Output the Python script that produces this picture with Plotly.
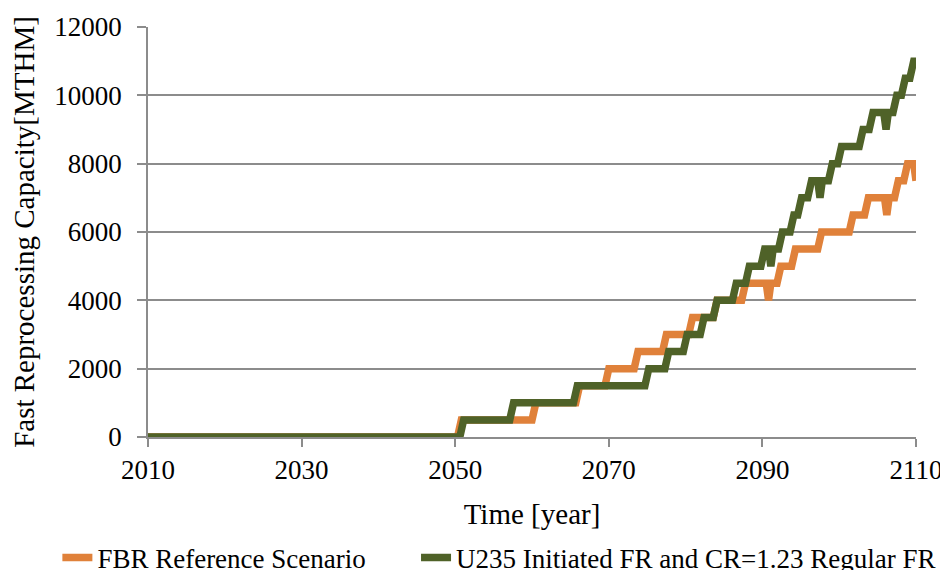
import plotly.graph_objects as go

# FBR Reference Scenario (year, capacity MTHM) corner points
fbr_years = [2010, 2050.3, 2050.8, 2060.0, 2060.5, 2065.7, 2066.2, 2069.5, 2070.0,
             2073.3, 2073.8, 2077.0, 2077.5, 2080.4, 2080.9, 2083.6, 2084.1, 2087.3,
             2087.8, 2090.5, 2090.8, 2091.1, 2091.9, 2092.4, 2093.8, 2094.3, 2097.2,
             2097.7, 2101.3, 2101.8, 2103.3, 2103.8, 2105.9, 2106.2, 2106.5, 2107.2,
             2107.7, 2108.4, 2108.9, 2109.7, 2110.0]
fbr_values = [0, 0, 500, 500, 1000, 1000, 1500, 1500, 2000,
              2000, 2500, 2500, 3000, 3000, 3500, 3500, 4000, 4000,
              4500, 4500, 4000, 4500, 4500, 5000, 5000, 5500, 5500,
              6000, 6000, 6500, 6500, 7000, 7000, 6500, 7000, 7000,
              7500, 7500, 8000, 8000, 7500]

# U235 Initiated FR and CR=1.23 Regular FR
u235_years = [2010, 2050.6, 2051.1, 2057.1, 2057.6, 2065.4, 2065.9, 2074.7, 2075.2,
              2077.3, 2077.8, 2079.7, 2080.2, 2081.9, 2082.4, 2083.6, 2084.1, 2086.1,
              2086.6, 2087.8, 2088.3, 2089.8, 2090.3, 2090.8, 2091.1, 2091.4, 2092.1,
              2092.6, 2093.6, 2094.1, 2094.6, 2095.1, 2095.9, 2096.4, 2097.2, 2097.5,
              2097.8, 2098.6, 2099.1, 2099.8, 2100.3, 2102.6, 2103.1, 2103.9, 2104.4,
              2105.8, 2106.1, 2106.4, 2107.0, 2107.5, 2108.1, 2108.6, 2109.2, 2109.7,
              2110.0]
u235_values = [0, 0, 500, 500, 1000, 1000, 1500, 1500, 2000,
               2000, 2500, 2500, 3000, 3000, 3500, 3500, 4000, 4000,
               4500, 4500, 5000, 5000, 5500, 5500, 5000, 5500, 5500,
               6000, 6000, 6500, 6500, 7000, 7000, 7500, 7500, 7000,
               7500, 7500, 8000, 8000, 8500, 8500, 9000, 9000, 9500,
               9500, 9000, 9500, 9500, 10000, 10000, 10500, 10500, 11000,
               11000]

x_ticks = [2010, 2030, 2050, 2070, 2090, 2110]
y_ticks = [0, 2000, 4000, 6000, 8000, 10000, 12000]

FONT = "Liberation Serif"
GRID = "#8c8c8c"

fig = go.Figure()
fig.add_trace(go.Scatter(
    x=fbr_years, y=fbr_values, mode="lines", name="FBR Reference Scenario",
    line=dict(color="#E0813A", width=7.5), legend="legend"))
fig.add_trace(go.Scatter(
    x=u235_years, y=u235_values, mode="lines",
    name="U235 Initiated FR and CR=1.23 Regular FR",
    line=dict(color="#4F6228", width=7.5), legend="legend2"))

legend_common = dict(orientation="h", xref="paper", yref="paper",
                     xanchor="left", y=-0.235, yanchor="top",
                     font=dict(family=FONT, size=27, color="black"),
                     itemwidth=30, bgcolor="rgba(0,0,0,0)")

fig.update_layout(
    width=948, height=570,
    margin=dict(l=140, r=40, t=19, b=141, autoexpand=False),
    paper_bgcolor="white", plot_bgcolor="white",
    font=dict(family=FONT, size=27, color="black"),
    showlegend=True,
    legend=dict(x=-0.118, **legend_common),
    legend2=dict(x=0.349, **legend_common),
    xaxis=dict(range=[2010, 2110], tickvals=x_ticks, tickformat="d",
               showgrid=False, automargin=True,
               showline=True, linecolor=GRID, linewidth=1.5,
               ticks="outside", ticklen=8, tickcolor=GRID, tickwidth=1.5,
               tickfont=dict(family=FONT, size=27), zeroline=False,
               title=dict(text="Time [year]", font=dict(family=FONT, size=29), standoff=20)),
    yaxis=dict(range=[0, 12000], tickvals=y_ticks, tickformat="d", showgrid=True,
               automargin=True, ticklabelstandoff=10,
               gridcolor=GRID, gridwidth=1.5, showline=True, linecolor=GRID,
               linewidth=1.5, ticks="outside", ticklen=9, tickcolor=GRID,
               tickwidth=1.5, tickfont=dict(family=FONT, size=27), zeroline=False,
               title=dict(text="Fast Reprocessing Capacity[MTHM]",
                          font=dict(family=FONT, size=29), standoff=16)),
)

fig.write_html("out.html")
